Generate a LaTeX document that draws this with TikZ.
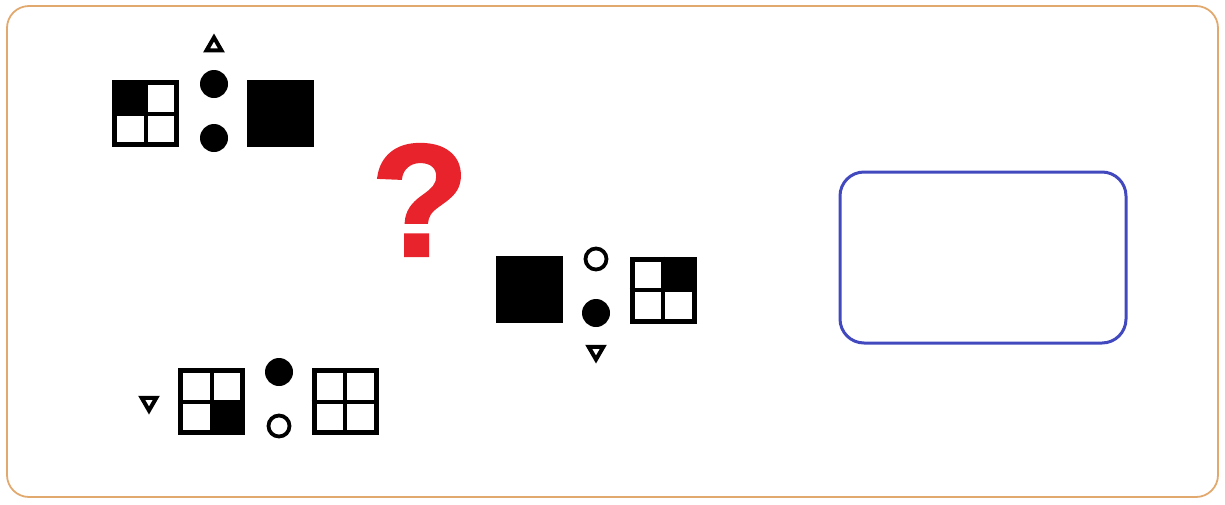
\documentclass[tikz,border=0pt]{standalone}
\usepackage{fontspec}
\setmainfont{Liberation Sans}
\newfontfamily\askfont[BoldFont={Liberation Sans Bold},BoldFeatures={FakeBold=1.6}]{Liberation Sans}
\usetikzlibrary{shapes.geometric}
\definecolor{framecol}{HTML}{E2A96E}
\definecolor{answercol}{HTML}{4249BE}
\definecolor{askred}{HTML}{E8232B}

\begin{document}
\begin{tikzpicture}[
  x=0.5pt,y=-0.5pt,
  frame/.style={draw=framecol,line width=0.9pt,rounded corners=11pt},
  quad/.style={draw,line width=2.5pt,minimum size=31pt,inner sep=0pt},
  grid/.style={line width=2pt},
  solid/.style={fill,minimum size=33.5pt,inner sep=0pt},
  dot/.style={circle,fill,minimum size=14pt,inner sep=0pt},
  ring/.style={circle,draw,line width=1.9pt,minimum size=10.5pt,inner sep=0pt},
  tri/.style={regular polygon,regular polygon sides=3,draw,line width=2pt,minimum size=8.5pt,inner sep=0pt},
  tridown/.style={tri,shape border rotate=180},
  answer/.style={draw=answercol,line width=1.5pt,rounded corners=12pt,minimum width=143pt,minimum height=85.5pt}
]
  \useasboundingbox (0,0) rectangle (1225,504);
  \draw[frame] (7,6) rectangle (1218,497);

  \node[quad] (quadA) at (145.5,113.5) {};
  \node[tri] (triA) at (214,46) {};
  \node[dot] (dotA1) at (214,84) {};
  \node[dot] (dotA2) at (214,138) {};
  \node[solid] (solidA) at (280,113.5) {};

  \node[solid] (solidB) at (529,289.5) {};
  \node[ring] (ringB) at (596,259) {};
  \node[dot] (dotB) at (596,313) {};
  \node[tridown] (triB) at (596,351) {};
  \node[quad] (quadB) at (663,290) {};

  \node[tridown] (triC) at (149,402) {};
  \node[quad] (quadC) at (211.5,401.5) {};
  \node[dot] (dotC) at (279,372) {};
  \node[ring] (ringC) at (279,426) {};
  \node[quad] (quadD) at (345,401.5) {};

  \fill (quadA.north west) rectangle (quadA.center);
  \fill (quadB.north east) rectangle (quadB.center);
  \fill (quadC.south east) rectangle (quadC.center);
  \foreach \q in {quadA,quadB,quadC,quadD}
    \draw[grid] (\q.north) -- (\q.south) (\q.west) -- (\q.east);

  \node[text=askred,font=\askfont\fontsize{80}{80}\selectfont\bfseries,inner sep=0pt] (ask) at (420,200) {?};

  \node[answer] (slot) at (983,257.5) {};
\end{tikzpicture}
\end{document}
